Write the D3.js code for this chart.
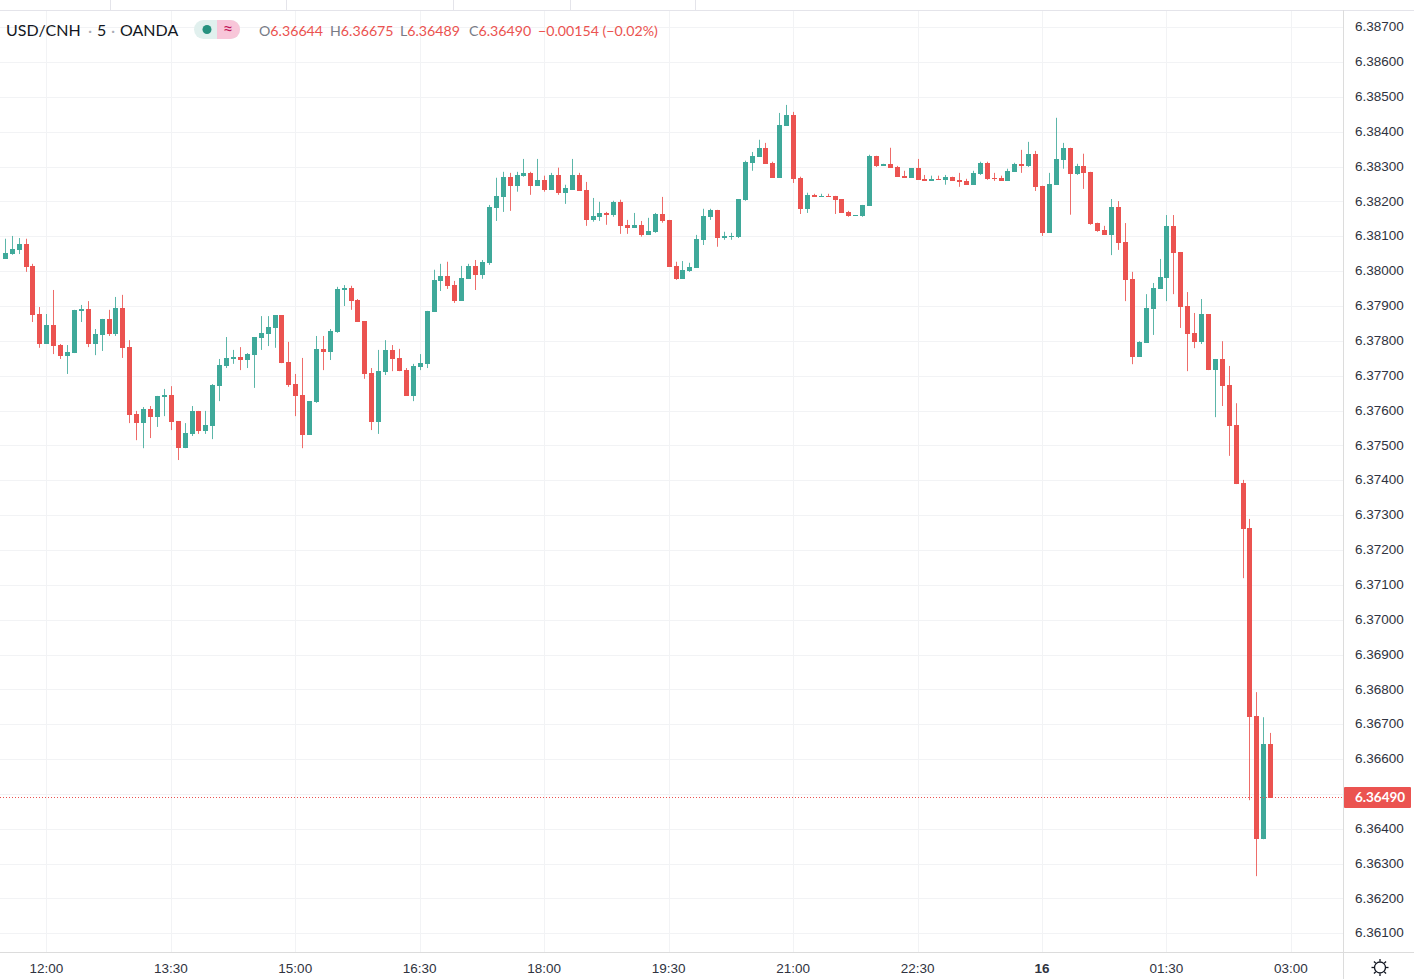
<!DOCTYPE html>
<html>
<head>
<meta charset="utf-8">
<script src="https://cdn.jsdelivr.net/npm/d3@7"></script>
<style>
  html, body { margin: 0; padding: 0; background: #fff; }
  svg { display: block; font-family: Lato, "Open Sans", sans-serif; }
</style>
</head>
<body>
<svg id="chart" width="1414" height="979"></svg>
<script>
// OHLC values, one entry per 5 minute bar
const opens = [
  6.38035,6.38049,6.38061,6.38078,6.38015,6.37877,6.37791,6.37846,6.37788,6.37757,
  6.37765,6.37886,6.37891,6.37791,6.37817,6.37863,6.37820,6.37894,6.37782,6.37590,
  6.37564,6.37604,6.37581,6.37639,6.37645,6.37570,6.37492,6.37533,6.37599,6.37541,
  6.37556,6.37670,6.37728,6.37748,6.37754,6.37745,6.37759,6.37808,6.37820,6.37837,
  6.37874,6.37739,6.37676,6.37645,6.37530,6.37624,6.37777,6.37768,6.37825,6.37946,
  6.37952,6.37917,6.37857,6.37708,6.37567,6.37711,6.37774,6.37751,6.37716,6.37642,
  6.37725,6.37734,6.37883,6.37972,6.37987,6.37961,6.37915,6.37978,6.38015,6.37989,
  6.38024,6.38182,6.38213,6.38271,6.38245,6.38274,6.38282,6.38245,6.38262,6.38233,
  6.38277,6.38225,6.38233,6.38277,6.38233,6.38147,6.38156,6.38167,6.38162,6.38199,
  6.38133,6.38124,6.38133,6.38104,6.38113,6.38164,6.38147,6.38015,6.37978,6.38001,
  6.38009,6.38090,6.38156,6.38176,6.38095,6.38098,6.38098,6.38205,6.38311,6.38328,
  6.38354,6.38311,6.38268,6.38417,6.38449,6.38268,6.38179,6.38219,6.38213,6.38216,
  6.38216,6.38207,6.38170,6.38159,6.38159,6.38187,6.38331,6.38302,6.38308,6.38299,
  6.38274,6.38268,6.38296,6.38265,6.38259,6.38265,6.38262,6.38271,6.38262,6.38259,
  6.38248,6.38279,6.38311,6.38268,6.38268,6.38259,6.38285,6.38308,6.38302,6.38337,
  6.38245,6.38110,6.38248,6.38319,6.38354,6.38279,6.38302,6.38285,6.38139,6.38118,
  6.38104,6.38184,6.38084,6.37977,6.37754,6.37794,6.37891,6.37949,6.37980,6.38130,
  6.38055,6.37900,6.37822,6.37797,6.37877,6.37716,6.37748,6.37673,6.37558,6.37392,
  6.37263,6.36723,6.36370,6.36644
];
const highs = [
  6.38093,6.38101,6.38095,6.38093,6.38021,6.37897,6.37877,6.37946,6.37791,6.37788,
  6.37889,6.37903,6.37914,6.37834,6.37863,6.37889,6.37926,6.37932,6.37802,6.37599,
  6.37610,6.37613,6.37642,6.37662,6.37670,6.37570,6.37564,6.37613,6.37599,6.37599,
  6.37676,6.37748,6.37811,6.37774,6.37782,6.37765,6.37811,6.37871,6.37871,6.37874,
  6.37874,6.37797,6.37705,6.37751,6.37627,6.37814,6.37814,6.37834,6.37955,6.37960,
  6.37958,6.37920,6.37857,6.37722,6.37774,6.37802,6.37788,6.37777,6.37722,6.37734,
  6.37762,6.37886,6.38004,6.38021,6.38027,6.37972,6.38015,6.38021,6.38032,6.38032,
  6.38190,6.38268,6.38285,6.38282,6.38285,6.38322,6.38285,6.38322,6.38274,6.38282,
  6.38297,6.38248,6.38322,6.38282,6.38256,6.38210,6.38199,6.38170,6.38202,6.38205,
  6.38147,6.38167,6.38144,6.38153,6.38167,6.38213,6.38147,6.38027,6.38029,6.38024,
  6.38104,6.38179,6.38179,6.38176,6.38113,6.38110,6.38207,6.38317,6.38342,6.38377,
  6.38368,6.38314,6.38454,6.38477,6.38457,6.38271,6.38225,6.38222,6.38222,6.38222,
  6.38216,6.38207,6.38173,6.38161,6.38190,6.38334,6.38331,6.38308,6.38354,6.38302,
  6.38288,6.38296,6.38322,6.38276,6.38274,6.38274,6.38276,6.38271,6.38282,6.38265,
  6.38288,6.38314,6.38314,6.38282,6.38274,6.38294,6.38311,6.38348,6.38371,6.38345,
  6.38245,6.38282,6.38440,6.38368,6.38354,6.38308,6.38337,6.38285,6.38139,6.38130,
  6.38207,6.38201,6.38138,6.37998,6.37799,6.37934,6.37966,6.38035,6.38161,6.38161,
  6.38055,6.37940,6.37880,6.37920,6.37877,6.37748,6.37799,6.37728,6.37621,6.37401,
  6.37289,6.36792,6.36720,6.36675
];
const lows = [
  6.38035,6.38047,6.38049,6.37998,6.37854,6.37780,6.37791,6.37762,6.37748,6.37705,
  6.37765,6.37854,6.37782,6.37759,6.37771,6.37814,6.37814,6.37751,6.37564,6.37515,
  6.37492,6.37521,6.37553,6.37584,6.37544,6.37458,6.37492,6.37527,6.37533,6.37533,
  6.37518,6.37627,6.37722,6.37734,6.37716,6.37722,6.37665,6.37774,6.37785,6.37780,
  6.37736,6.37668,6.37584,6.37492,6.37530,6.37622,6.37716,6.37745,6.37823,6.37900,
  6.37889,6.37854,6.37691,6.37544,6.37533,6.37702,6.37713,6.37713,6.37642,6.37627,
  6.37716,6.37722,6.37883,6.37943,6.37949,6.37909,6.37915,6.37978,6.37946,6.37978,
  6.38018,6.38144,6.38170,6.38173,6.38228,6.38271,6.38219,6.38245,6.38228,6.38233,
  6.38219,6.38193,6.38233,6.38231,6.38130,6.38142,6.38144,6.38133,6.38156,6.38107,
  6.38107,6.38124,6.38099,6.38104,6.38110,6.38139,6.38012,6.37975,6.37978,6.37998,
  6.38009,6.38075,6.38147,6.38070,6.38090,6.38090,6.38095,6.38202,6.38288,6.38328,
  6.38308,6.38268,6.38268,6.38417,6.38253,6.38164,6.38167,6.38213,6.38213,6.38213,
  6.38164,6.38167,6.38156,6.38159,6.38156,6.38187,6.38299,6.38302,6.38296,6.38271,
  6.38268,6.38268,6.38262,6.38259,6.38259,6.38262,6.38248,6.38259,6.38242,6.38248,
  6.38248,6.38276,6.38262,6.38259,6.38259,6.38259,6.38285,6.38282,6.38299,6.38230,
  6.38101,6.38110,6.38248,6.38294,6.38162,6.38276,6.38236,6.38133,6.38113,6.38104,
  6.38046,6.38061,6.37914,6.37733,6.37754,6.37794,6.37817,6.37949,6.37914,6.37934,
  6.37837,6.37713,6.37779,6.37791,6.37716,6.37581,6.37613,6.37470,6.37389,6.37119,
  6.36482,6.36264,6.36370,6.36489
];
const closes = [
  6.38052,6.38064,6.38078,6.38012,6.37874,6.37791,6.37846,6.37785,6.37757,6.37768,
  6.37889,6.37891,6.37791,6.37820,6.37863,6.37820,6.37894,6.37780,6.37587,6.37564,
  6.37604,6.37581,6.37642,6.37645,6.37567,6.37492,6.37535,6.37599,6.37541,6.37558,
  6.37673,6.37731,6.37751,6.37754,6.37745,6.37762,6.37811,6.37823,6.37840,6.37874,
  6.37736,6.37673,6.37642,6.37530,6.37627,6.37777,6.37768,6.37828,6.37949,6.37952,
  6.37914,6.37854,6.37705,6.37567,6.37713,6.37774,6.37748,6.37713,6.37642,6.37728,
  6.37736,6.37886,6.37975,6.37987,6.37958,6.37915,6.37981,6.38015,6.37989,6.38027,
  6.38185,6.38216,6.38271,6.38245,6.38277,6.38282,6.38245,6.38262,6.38233,6.38277,
  6.38225,6.38239,6.38277,6.38231,6.38147,6.38159,6.38167,6.38162,6.38199,6.38130,
  6.38124,6.38133,6.38104,6.38116,6.38165,6.38144,6.38012,6.37978,6.38004,6.38012,
  6.38093,6.38159,6.38176,6.38095,6.38101,6.38100,6.38207,6.38314,6.38331,6.38354,
  6.38308,6.38268,6.38420,6.38449,6.38265,6.38179,6.38219,6.38213,6.38215,6.38213,
  6.38205,6.38167,6.38159,6.38161,6.38190,6.38331,6.38302,6.38308,6.38296,6.38271,
  6.38268,6.38296,6.38262,6.38259,6.38265,6.38262,6.38271,6.38259,6.38256,6.38248,
  6.38282,6.38311,6.38265,6.38265,6.38259,6.38288,6.38308,6.38302,6.38337,6.38242,
  6.38110,6.38251,6.38322,6.38354,6.38279,6.38302,6.38282,6.38136,6.38116,6.38104,
  6.38184,6.38081,6.37975,6.37754,6.37797,6.37894,6.37952,6.37983,6.38130,6.38052,
  6.37897,6.37820,6.37797,6.37877,6.37716,6.37748,6.37670,6.37555,6.37389,6.37260,
  6.36720,6.36370,6.36644,6.36490
];

const priceTicks = d3.range(6.361, 6.3875, 0.001);
const timeTickBars = [6, 24, 42, 60, 78, 96, 114, 132, 150, 168, 186];
const timeTickLabels = ["12:00", "13:30", "15:00", "16:30", "18:00", "19:30", "21:00", "22:30", "16", "01:30", "03:00"];
const topDividers = [110, 286, 453, 570, 695];
const lastPrice = 6.3649;

const upColor = "#3fa99a";
const downColor = "#eb5350";
const gridColor = "#f2f3f5";
const axisColor = "#dcdcdc";
const textColor = "#2f3340";

const svg = d3.select("#chart");
const plotW = 1343, plotTop = 10, plotBottom = 952;

const x = d3.scaleLinear().domain([-0.7, 193.53]).range([0, plotW]);
const y = d3.scaleLinear().domain([6.361, 6.381]).range([933.3, 236.3]);

// grid
svg.append("g").selectAll("line").data(priceTicks).enter().append("line")
  .attr("x1", 0).attr("x2", plotW)
  .attr("y1", d => Math.round(y(d)) + 0.5).attr("y2", d => Math.round(y(d)) + 0.5)
  .attr("stroke", gridColor);
svg.append("g").selectAll("line").data(timeTickBars).enter().append("line")
  .attr("x1", d => Math.round(x(d)) + 0.5).attr("x2", d => Math.round(x(d)) + 0.5)
  .attr("y1", plotTop).attr("y2", plotBottom)
  .attr("stroke", gridColor);

// strip at the very top
svg.append("line").attr("x1", 0).attr("x2", 1414).attr("y1", 10.5).attr("y2", 10.5).attr("stroke", "#e4e4ea");
svg.append("g").selectAll("line").data(topDividers).enter().append("line")
  .attr("x1", d => d + 0.5).attr("x2", d => d + 0.5).attr("y1", 0).attr("y2", 10)
  .attr("stroke", "#e4e4ea");

// candles
const candles = svg.append("g").selectAll("g").data(opens).enter().append("g")
  .attr("fill", (d, i) => closes[i] >= d ? upColor : downColor)
  .attr("stroke", (d, i) => closes[i] >= d ? upColor : downColor);
candles.append("line")
  .attr("x1", (d, i) => Math.round(x(i)) + 0.5).attr("x2", (d, i) => Math.round(x(i)) + 0.5)
  .attr("y1", (d, i) => y(highs[i])).attr("y2", (d, i) => y(lows[i]))
  .attr("stroke-opacity", 0.85);
candles.append("rect")
  .attr("x", (d, i) => Math.round(x(i)) - 2)
  .attr("width", 5)
  .attr("y", (d, i) => Math.round(y(Math.max(d, closes[i]))))
  .attr("height", (d, i) => Math.max(1, Math.round(Math.abs(y(d) - y(closes[i])))))
  .attr("stroke", "none");

// last price line
svg.append("line")
  .attr("x1", 0).attr("x2", plotW)
  .attr("y1", Math.round(y(lastPrice)) + 0.5).attr("y2", Math.round(y(lastPrice)) + 0.5)
  .attr("stroke", downColor).attr("stroke-dasharray", "1 2");

// axes, the tick under the last price label is left out like in the terminal
const yAxis = d3.axisRight(y)
  .tickValues(priceTicks.filter(d => Math.abs(d - lastPrice) > 0.0005))
  .tickFormat(d3.format(".5f")).tickSize(0).tickPadding(12);
const yG = svg.append("g").attr("transform", `translate(${plotW},0)`).call(yAxis);
yG.select(".domain").remove();
yG.selectAll("text").attr("fill", textColor).attr("font-size", 13.5).attr("dy", "0.27em");

const xAxis = d3.axisBottom(x).tickValues(timeTickBars)
  .tickFormat((d, i) => timeTickLabels[i]).tickSize(0).tickPadding(11);
const xG = svg.append("g").attr("transform", `translate(0,${plotBottom})`).call(xAxis);
xG.select(".domain").remove();
xG.selectAll("text").attr("fill", textColor).attr("font-size", 13.5).attr("dx", -0.5)
  .attr("font-weight", (d, i) => timeTickLabels[i] === "16" ? 700 : 400);

svg.append("line").attr("x1", plotW + 0.5).attr("x2", plotW + 0.5).attr("y1", plotTop).attr("y2", 979).attr("stroke", axisColor);
svg.append("line").attr("x1", 0).attr("x2", 1414).attr("y1", plotBottom + 0.5).attr("y2", plotBottom + 0.5).attr("stroke", axisColor);

// last price label
svg.append("rect").attr("x", plotW + 1).attr("y", Math.round(y(lastPrice)) - 10)
  .attr("width", 67).attr("height", 21).attr("rx", 1).attr("fill", downColor);
svg.append("text").attr("x", 1355).attr("y", y(lastPrice) + 5)
  .attr("fill", "#fff").attr("font-size", 13.5).attr("font-weight", 700)
  .text(d3.format(".5f")(lastPrice));

// header
const titleParts = [
  { x: 6, s: "USD/CNH", c: "#131722" },
  { x: 88, s: "·", c: "#a9acb5" },
  { x: 97, s: "5", c: "#131722" },
  { x: 111, s: "·", c: "#a9acb5" },
  { x: 120, s: "OANDA", c: "#131722" }
];
titleParts.forEach(d => {
  svg.append("text").attr("x", d.x).attr("y", 36).attr("fill", d.c).attr("font-size", 16).text(d.s);
});
svg.append("rect").attr("x", 194).attr("y", 20).attr("width", 46).attr("height", 19).attr("rx", 9.5).attr("fill", "#e1f0ee");
svg.append("path").attr("d", "M217 20h13.5a9.5 9.5 0 0 1 0 19H217z").attr("fill", "#f8c6d9");
svg.append("circle").attr("cx", 207).attr("cy", 29.5).attr("r", 4.5).attr("fill", "#26917f");
svg.append("text").attr("x", 228).attr("y", 35).attr("text-anchor", "middle").attr("fill", "#c2185b")
  .attr("font-size", 18).text("≈");

const ohlcLabels = [
  { x: 259, name: "O", val: "6.36644" },
  { x: 330, name: "H", val: "6.36675" },
  { x: 400, name: "L", val: "6.36489" },
  { x: 469, name: "C", val: "6.36490" }
];
ohlcLabels.forEach(d => {
  const t = svg.append("text").attr("x", d.x).attr("y", 36).attr("font-size", 14.2);
  t.append("tspan").attr("fill", "#787b86").text(d.name);
  t.append("tspan").attr("fill", downColor).text(d.val);
});
svg.append("text").attr("x", 538).attr("y", 36).attr("font-size", 14.2).attr("fill", downColor)
  .text("−0.00154 (−0.02%)");

// settings icon in the corner
const gear = svg.append("g").attr("transform", "translate(1380,967.5)").attr("fill", "none")
  .attr("stroke", "#131722").attr("stroke-width", 1.3);
gear.append("circle").attr("r", 5.5);
gear.selectAll("line").data(d3.range(8)).enter().append("line")
  .attr("x1", 0).attr("x2", 0).attr("y1", -6).attr("y2", -8.5)
  .attr("transform", d => `rotate(${d * 45})`);
</script>
</body>
</html>
